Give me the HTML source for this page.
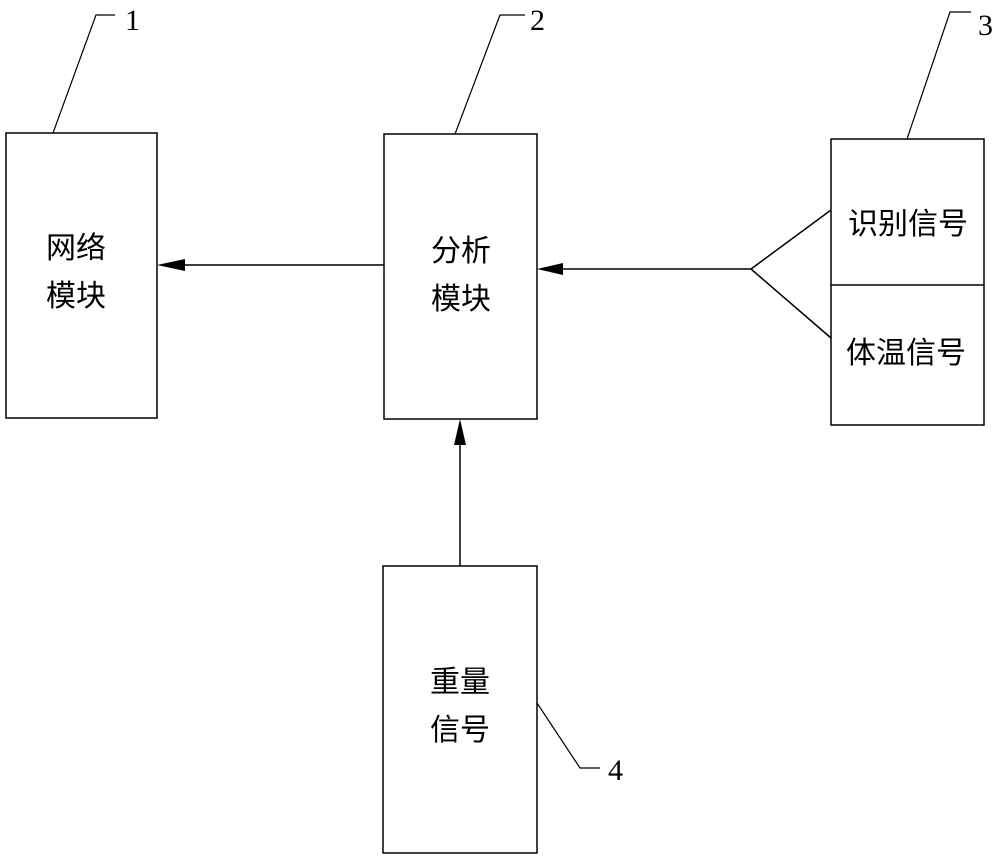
<!DOCTYPE html>
<html><head><meta charset="utf-8"><style>body{margin:0;background:#fff}</style></head><body>
<svg width="1000" height="859" viewBox="0 0 1000 859" xmlns="http://www.w3.org/2000/svg" style="display:block">
<g fill="none" stroke="#000" stroke-width="1.5">
<rect x="6" y="133" width="151" height="285"/>
<rect x="384" y="134" width="153" height="285"/>
<rect x="831" y="139" width="153" height="286"/>
<line x1="831" y1="285" x2="984" y2="285"/>
<rect x="383" y="566" width="154" height="287"/>
<line x1="384" y1="265" x2="170" y2="265"/>
<line x1="751" y1="269" x2="552" y2="269"/>
<line x1="751" y1="269" x2="831" y2="210"/>
<line x1="751" y1="269" x2="831" y2="338"/>
<line x1="460" y1="566" x2="460" y2="440"/>
<g stroke-width="1.2">
<polyline points="53,133 96,15 115,15"/>
<polyline points="455,134 500,15 525,15"/>
<polyline points="907,139 950,12 971,12"/>
<polyline points="537,703 580,768 600,768"/>
</g>
</g>
<g fill="#000">
<polygon points="157,265 185,259 185,271"/>
<polygon points="537,269 563,263 563,275"/>
<polygon points="460,419 454,445 466,445"/>
</g>
<g font-family="Liberation Serif, serif" font-size="30" fill="#000">
<text x="125" y="30">1</text>
<text x="530" y="30">2</text>
<text x="978" y="35">3</text>
<text x="608" y="780">4</text>
</g>
<g font-family="Liberation Sans, Noto Sans CJK SC, sans-serif" font-size="30" fill="#000" text-anchor="middle">
<text x="76" y="258">网络</text>
<text x="76" y="306">模块</text>
<text x="461" y="261">分析</text>
<text x="461" y="309">模块</text>
<text x="908" y="234">识别信号</text>
<text x="906" y="363">体温信号</text>
<text x="460" y="692">重量</text>
<text x="460" y="740">信号</text>
</g>
</svg>
</body></html>
